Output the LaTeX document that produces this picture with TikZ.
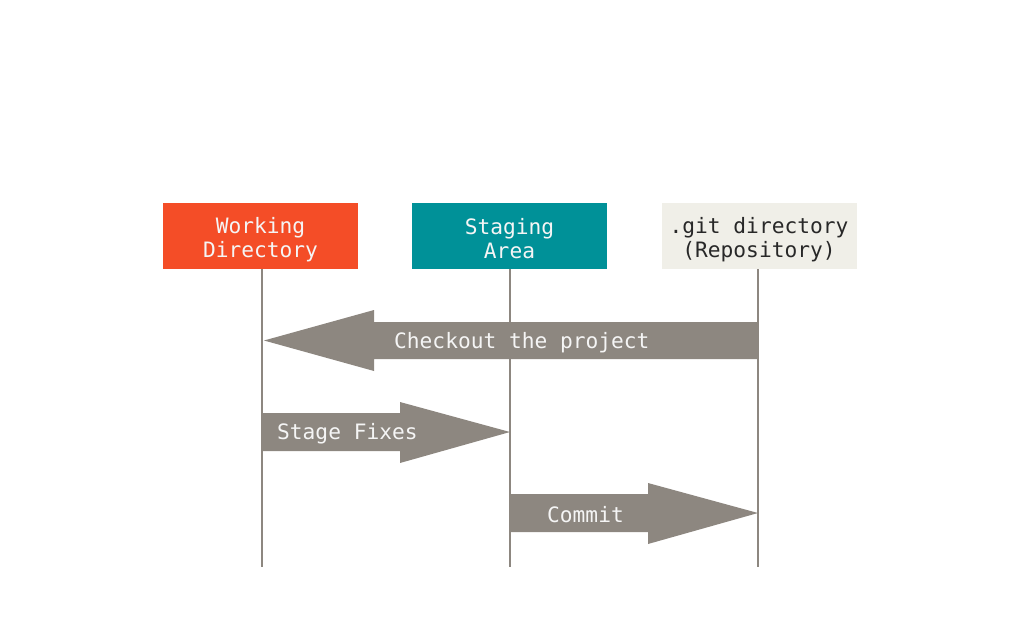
\documentclass[tikz,border=0pt]{standalone}
\usepackage{fontspec}
\setmonofont{DejaVu Sans Mono}
\usetikzlibrary{calc}
\definecolor{wdorange}{RGB}{244,77,39}
\definecolor{stteal}{RGB}{0,145,152}
\definecolor{gitbg}{RGB}{240,239,232}
\definecolor{arrgray}{RGB}{141,135,128}
\definecolor{linegray}{RGB}{141,135,128}
\definecolor{txtlight}{RGB}{245,245,245}
\definecolor{txtdark}{RGB}{40,40,40}
\begin{document}
\begin{tikzpicture}[x=1pt,y=-1pt,
  box/.style={minimum width=195pt,minimum height=66pt,inner sep=0pt},
  boxtxt/.style={align=center,inner sep=0pt,font=\ttfamily\fontsize{21.2}{24}\selectfont},
  life/.style={draw=linegray,line width=1.6pt},
  bigarrow/.style={fill=arrgray,draw=none},
  arrlabel/.style={anchor=west,text=txtlight,inner sep=0pt,font=\ttfamily\fontsize{21.2}{24}\selectfont}]
\useasboundingbox (0,0) rectangle (1024,640);
\node[box,fill=wdorange] (wd) at (260.5,236) {};
\node[box,fill=stteal] (sa) at (509.5,236) {};
\node[box,fill=gitbg] (git) at (759,236) {};
\node[boxtxt,text=txtlight] (wdt) at ($(wd.center)+(0,4)$) {Working\\Directory};
\node[boxtxt,text=txtlight] (sat) at ($(sa.center)+(0,2.5)$) {Staging\\Area};
\node[boxtxt,text=txtdark] (gitt) at ($(git.center)+(0,3.5)$) {.git directory\\(Repository)};
\coordinate (wdend) at (262,567);
\coordinate (saend) at (510,567);
\coordinate (gitend) at (758,567);
\draw[life] (wd.south -| wdend) -- (wdend);
\draw[life] (sa.south -| saend) -- (saend);
\draw[life] (git.south -| gitend) -- (gitend);
% checkout arrow
\coordinate (coTail) at (758,340.5);
\coordinate (coTip) at (264,340.5);
\fill[bigarrow] (coTail) -- ++(0,-18.5) -- (374,322) -- (374,310) -- (coTip) -- (374,371) -- (374,359) -- ($(coTail)+(0,18.5)$) -- cycle;
\node[arrlabel] (colab) at (394,342.5) {Checkout the project};
% stage fixes arrow
\coordinate (sfTail) at (262,432);
\coordinate (sfTip) at (510,432);
\fill[bigarrow] (sfTail) -- ++(0,-19) -- (400,413) -- (400,402) -- (sfTip) -- (400,463) -- (400,451) -- ($(sfTail)+(0,19)$) -- cycle;
\node[arrlabel] (sflab) at (277,434) {Stage Fixes};
% commit arrow
\coordinate (cmTail) at (510,513);
\coordinate (cmTip) at (758,513);
\fill[bigarrow] (cmTail) -- ++(0,-19) -- (648,494) -- (648,483) -- (cmTip) -- (648,544) -- (648,532) -- ($(cmTail)+(0,19)$) -- cycle;
\node[arrlabel] (cmlab) at (547,515) {Commit};
\end{tikzpicture}
\end{document}
